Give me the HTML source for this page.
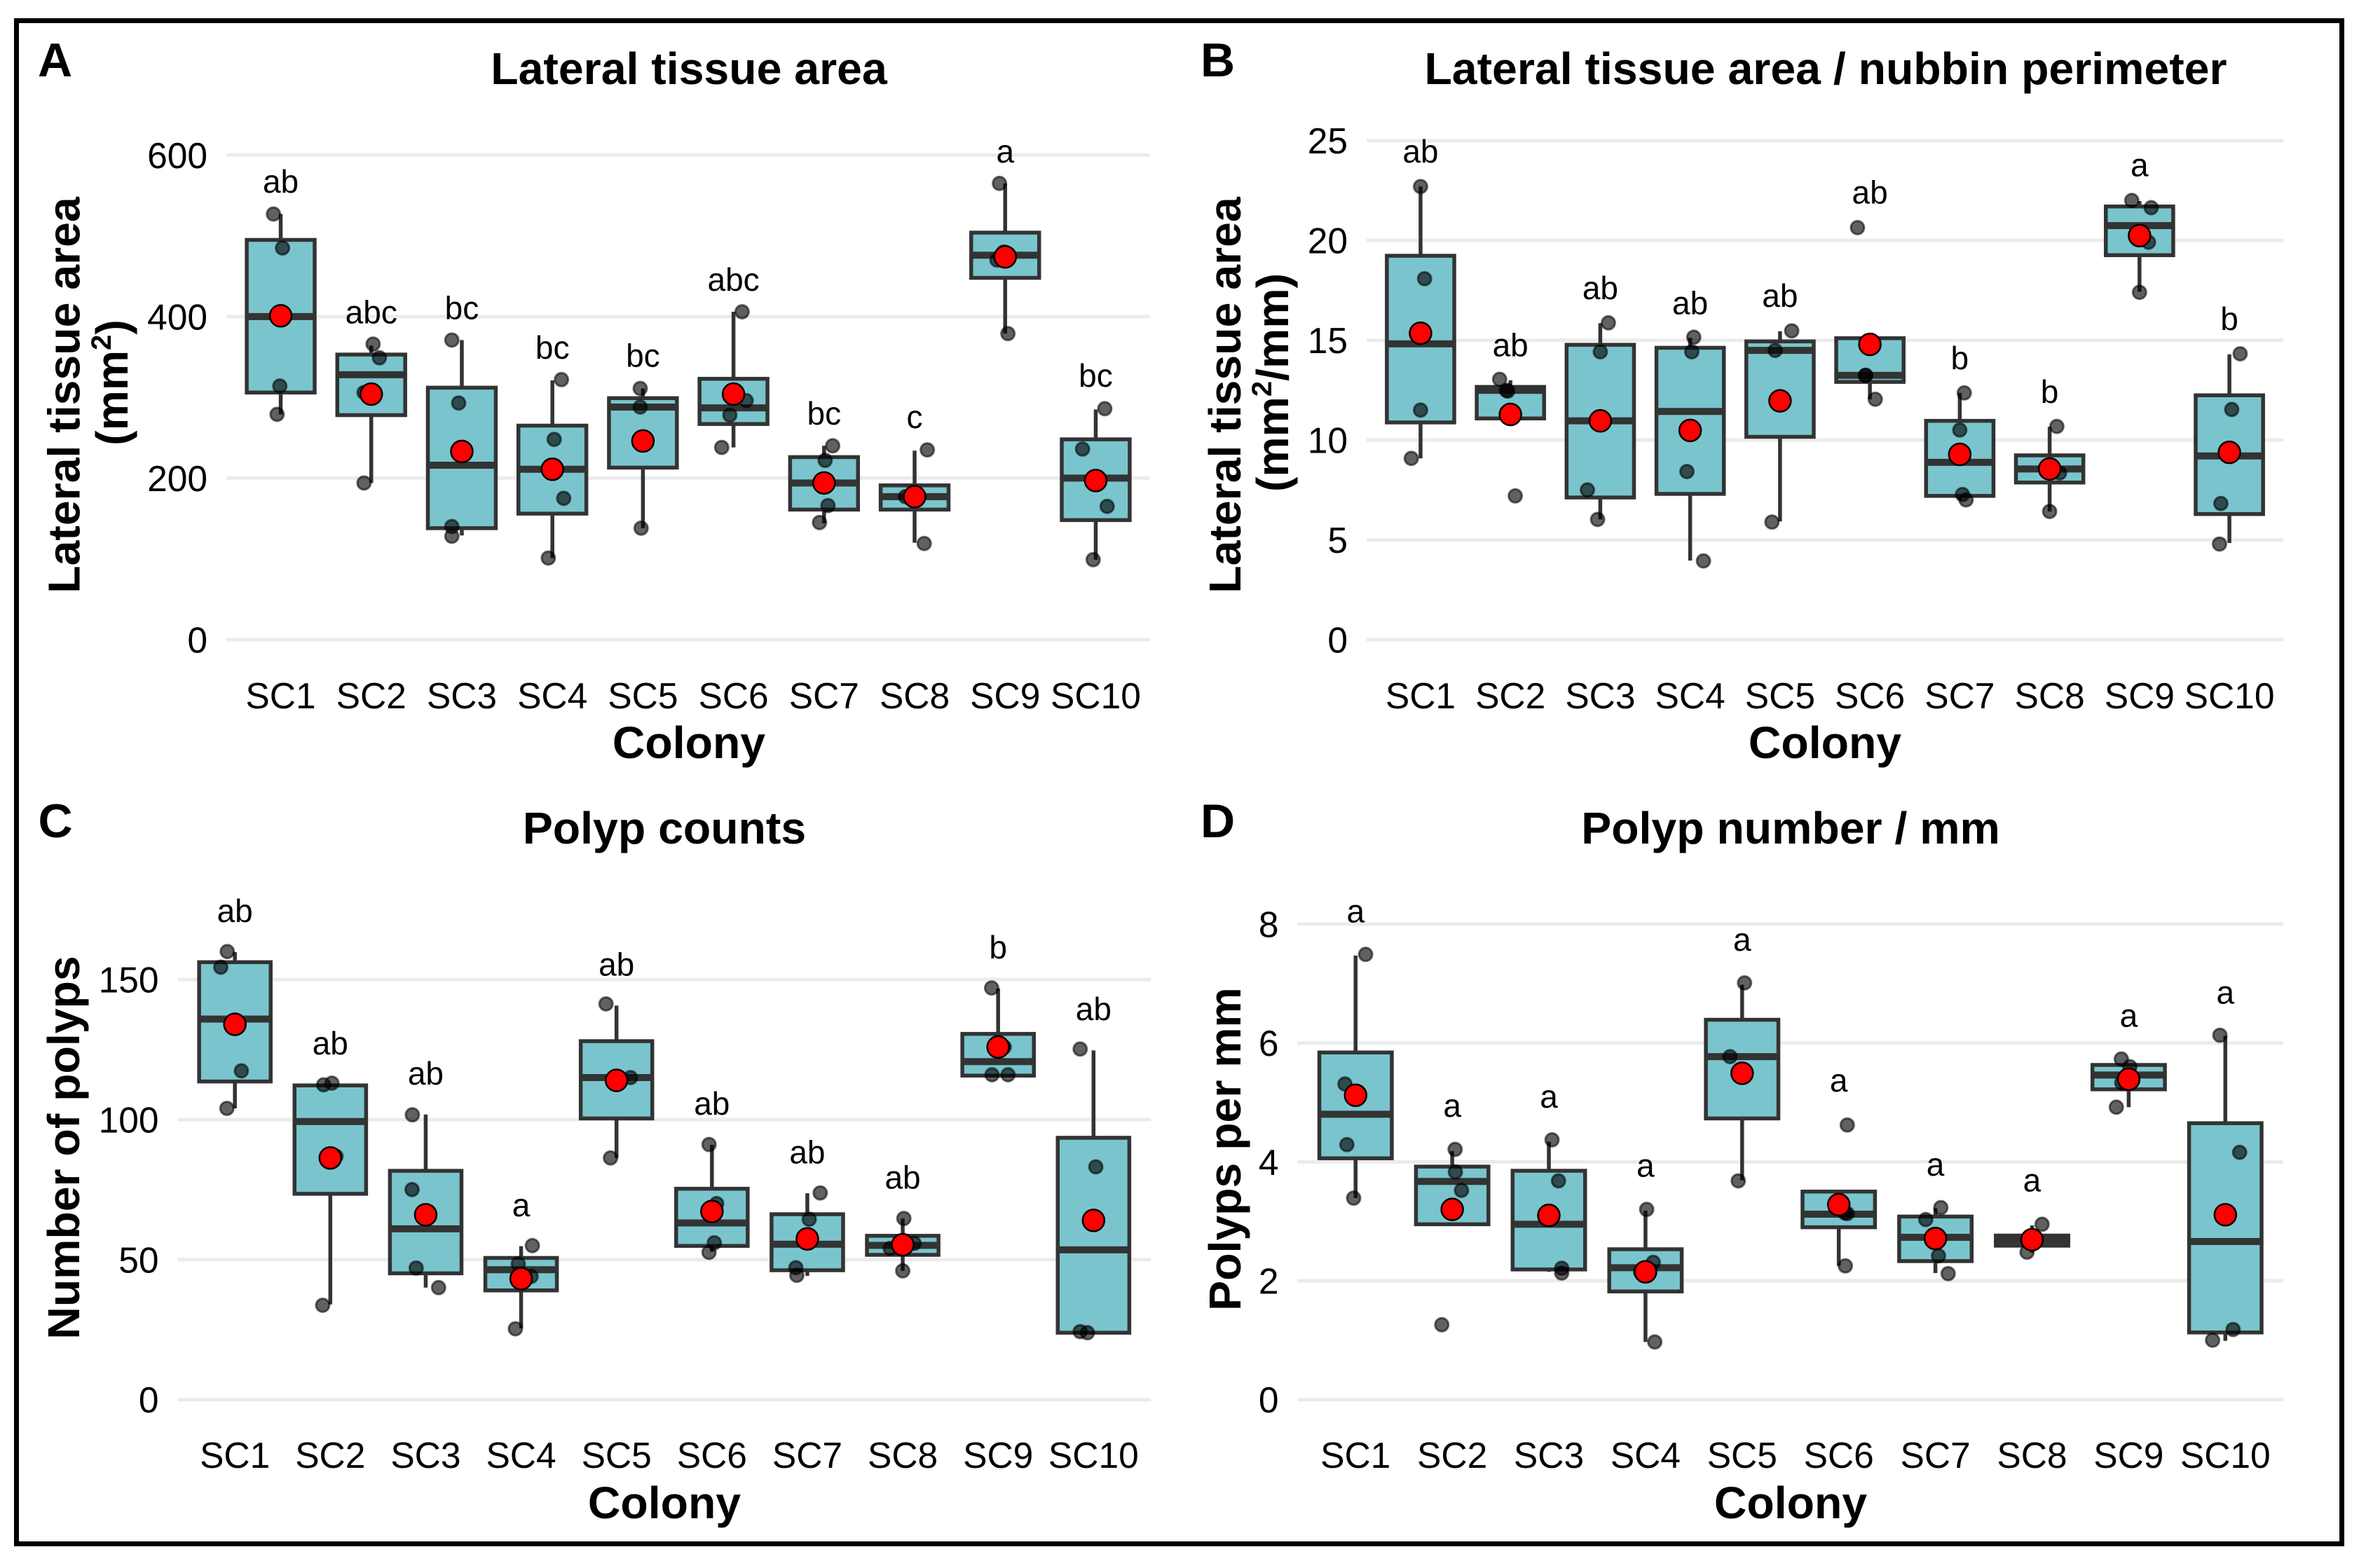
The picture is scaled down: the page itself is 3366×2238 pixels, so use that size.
<!DOCTYPE html>
<html lang="en">
<head>
<meta charset="utf-8">
<title>Lateral tissue area and polyp counts by colony</title>
<style>
  html, body { margin: 0; padding: 0; background: #fff; }
  svg { display: block; font-family: "Liberation Sans", Arial, sans-serif; }
  .panel-letter { font-size: 68px; font-weight: 700; fill: #000; }
  .title { font-size: 64.4px; font-weight: 700; fill: #000; text-anchor: middle; }
  .axis-title { font-size: 64.4px; font-weight: 700; fill: #000; text-anchor: middle; }
  .tick { font-size: 51.5px; fill: #000; }
  .sig { font-size: 46px; fill: #000; text-anchor: middle; }
</style>
</head>
<body>
<svg id="fig" xmlns="http://www.w3.org/2000/svg" width="3366" height="2238" viewBox="0 0 3366 2238">
  <rect x="0" y="0" width="3366" height="2238" fill="#fff"/>
  <rect x="23.5" y="29.5" width="3318" height="2174" fill="none" stroke="#000" stroke-width="7"/>

  <g id="panel-a">
    <text class="panel-letter" x="54" y="109">A</text>
    <text class="title" x="983" y="120">Lateral tissue area</text>
    <text class="axis-title" transform="translate(113.5,564) rotate(-90)">Lateral tissue area</text>
    <text class="axis-title" transform="translate(182,546) rotate(-90)">(mm<tspan font-size="40" dy="-24">2</tspan><tspan dy="24">)</tspan></text>
    <text class="axis-title" x="983" y="1082">Colony</text>
  </g>
  <g id="panel-b">
    <text class="panel-letter" x="1713" y="109">B</text>
    <text class="title" x="2605" y="120">Lateral tissue area / nubbin perimeter</text>
    <text class="axis-title" transform="translate(1770,564) rotate(-90)">Lateral tissue area</text>
    <text class="axis-title" transform="translate(1838,546) rotate(-90)">(mm<tspan font-size="40" dy="-24">2</tspan><tspan dy="24">/mm)</tspan></text>
    <text class="axis-title" x="2604" y="1082">Colony</text>
  </g>
  <g id="panel-c">
    <text class="panel-letter" x="54.5" y="1195">C</text>
    <text class="title" x="948" y="1204">Polyp counts</text>
    <text class="axis-title" transform="translate(113,1638) rotate(-90)">Number of polyps</text>
    <text class="axis-title" x="948" y="2167">Colony</text>
  </g>
  <g id="panel-d">
    <text class="panel-letter" x="1713" y="1195">D</text>
    <text class="title" x="2555" y="1204">Polyp number / mm</text>
    <text class="axis-title" transform="translate(1770,1640) rotate(-90)">Polyps per mm</text>
    <text class="axis-title" x="2555" y="2167">Colony</text>
  </g>
</svg>

<script>
// Shared category labels
const categories = ['SC1','SC2','SC3','SC4','SC5','SC6','SC7','SC8','SC9','SC10'];

// Panel A: lateral tissue area (mm2)
const aTicks = [0, 200, 400, 600];
const aQ1 = [306, 278, 138, 156, 213, 267, 161, 161, 448, 148];
const aMedian = [400, 328, 216, 211, 288, 287, 194, 177, 476, 200];
const aQ3 = [495, 353, 312, 265, 299, 323, 226, 191, 504, 248];
const aWhiskerLow = [279, 194, 129, 101, 138, 238, 144, 120, 379, 99];
const aWhiskerHigh = [527, 364, 371, 321, 311, 406, 240, 234, 565, 285];
const aMean = [401, 304, 233, 211, 246, 304, 194, 177, 474, 197];
const aPoints = [[527,485,314,279],[366,349,306,194],[371,293,140,128],[322,248,175,101],[311,288,138],[406,296,278,238],[240,222,166,145],[235,177,119],[565,480,470,379],[286,236,165,99]];
const aJitter = [[-.08,.02,-.01,-.04],[.02,.09,-.08,-.08],[-.11,-.035,-.11,-.11],[.10,.02,.125,-.045],[-.03,-.03,-.02],[.095,.14,-.04,-.13],[.095,.012,.043,-.05],[.14,-.10,.106],[-.063,-.016,-.09,.03],[.10,-.146,.126,-.028]];
const aLetters = ['ab','abc','bc','bc','bc','abc','bc','c','a','bc'];
const aLetterY = [553.5, 391.7, 396.7, 347.7, 337.8, 432, 266.5, 262, 590.7, 313];

// Panel B: lateral tissue area / nubbin perimeter (mm2/mm)
const bTicks = [0, 5, 10, 15, 20, 25];
const bQ1 = [10.88, 11.08, 7.12, 7.3, 10.16, 12.91, 7.2, 7.87, 19.26, 6.29];
const bMedian = [14.82, 12.49, 10.96, 11.43, 14.49, 13.24, 8.88, 8.55, 20.74, 9.2];
const bQ3 = [19.23, 12.66, 14.77, 14.62, 14.94, 15.1, 10.96, 9.23, 21.7, 12.24];
const bWhiskerLow = [9.08, 11.08, 6.02, 3.96, 5.92, 12.04, 7.0, 6.42, 17.43, 4.84];
const bWhiskerHigh = [22.7, 12.99, 15.85, 15.12, 15.45, 15.1, 12.36, 10.66, 21.97, 14.29];
const bMean = [15.35, 11.28, 10.96, 10.48, 11.96, 14.79, 9.28, 8.55, 20.24, 9.38];
const bPoints = [[22.7,18.08,11.5,9.08],[13.04,12.49,12.45,7.2],[15.87,14.42,7.5,6.02],[15.15,14.42,8.42,3.94],[15.47,14.49,5.89],[20.64,13.24,13.24,12.04],[12.36,10.5,7.27,7.0],[10.68,8.35,6.42],[22,21.64,19.91,17.4],[14.32,11.53,6.82,4.79]];
const bJitter = [[0,.045,0,-.103],[-.12,-.045,-.03,.054],[.09,0,-.143,-.03],[.04,.018,-.036,.148],[.13,-.054,-.09],[-.138,-.047,-.05,.06],[.05,0,.03,.07],[.08,.11,0],[-.086,.13,.1,0],[.12,.026,-.095,-.11]];
const bLetters = ['ab','ab','ab','ab','ab','ab','b','b','a','b'];
const bLetterY = [23.9, 14.19, 17.05, 16.3, 16.67, 21.84, 13.54, 11.86, 23.22, 15.52];

// Panel C: polyp counts
const cTicks = [0, 50, 100, 150];
const cQ1 = [113.6, 73.5, 45.1, 39, 100.4, 54.9, 46.2, 51.7, 115.7, 23.9];
const cMedian = [135.9, 99.3, 61, 46.4, 115, 63.1, 55.5, 55.1, 120.7, 53.5];
const cQ3 = [156.2, 112.2, 81.7, 50.6, 128, 75.3, 66.2, 58.5, 130.6, 93.5];
const cWhiskerLow = [104, 34, 40, 25.5, 86.3, 52.8, 44.2, 46, 115.7, 23.9];
const cWhiskerHigh = [159.8, 112.2, 101.8, 54.8, 140.7, 91, 73.7, 64.7, 146.8, 124.7];
const cMean = [134, 86.3, 66, 43.2, 114, 67.2, 57.4, 55.3, 125.9, 64];
const cPoints = [[160,154.4,117.4,104],[113,112.4,86.9,33.7],[101.7,75,47,40],[55,48.5,44,25.3],[141.3,115,86.3],[91.1,70,56,52.6],[73.8,64.4,47.1,44.4],[64.7,55.8,54,46],[147,125.9,116,116],[125.2,83.1,24.3,23.9]];
const cJitter = [[-.08,-.148,.068,-.084],[.017,-.07,.06,-.08],[-.14,-.143,-.1,.135],[.118,-.03,.105,-.06],[-.11,.147,-.063],[-.03,.05,.025,-.03],[.135,.02,-.12,-.11],[.012,.12,-.13,0],[-.068,.064,-.064,.104],[-.14,.024,-.14,-.064]];
const cLetters = ['ab','ab','ab','a','ab','ab','ab','ab','b','ab'];
const cLetterY = [170.5, 123.2, 112.5, 65.5, 151.4, 101.8, 84.4, 75.4, 157.5, 135.5];

// Panel D: polyps per mm
const dTicks = [0, 2, 4, 6, 8];
const dQ1 = [4.06, 2.95, 2.19, 1.82, 4.73, 2.9, 2.33, 2.59, 5.22, 1.13];
const dMedian = [4.8, 3.67, 2.95, 2.22, 5.77, 3.12, 2.73, 2.68, 5.46, 2.66];
const dQ3 = [5.84, 3.92, 3.85, 2.53, 6.39, 3.5, 3.08, 2.76, 5.63, 4.65];
const dWhiskerLow = [3.39, 2.95, 2.15, 0.97, 3.69, 2.25, 2.13, 2.47, 4.92, 0.99];
const dWhiskerHigh = [7.47, 4.18, 4.34, 3.18, 6.98, 3.5, 3.22, 2.93, 5.63, 6.12];
const dMean = [5.12, 3.2, 3.1, 2.15, 5.49, 3.28, 2.71, 2.69, 5.39, 3.11];
const dPoints = [[7.49,5.31,4.29,3.39],[4.21,3.83,3.52,1.26],[4.37,3.68,2.21,2.13],[3.2,2.31,2.15,0.97],[7.01,5.77,3.68],[4.62,3.13,3.14,2.25],[3.23,3.03,2.42,2.12],[2.95,2.48],[5.73,5.6,5.33,4.92],[6.13,4.16,1.18,1.0]];
const dJitter = [[.104,-.11,-.09,-.02],[.03,.033,.096,-.108],[.033,.1,.133,.133],[.012,.08,-.05,.096],[.025,-.125,-.04],[.088,.088,.064,.068],[.056,-.1,.032,.132],[.104,-.052],[-.076,.012,-.072,-.128],[-.056,.148,.08,-.132]];
const dLetters = ['a','a','a','a','a','a','a','a','a','a'];
const dLetterY = [8.03, 4.76, 4.91, 3.75, 7.55, 5.18, 3.77, 3.5, 6.27, 6.66];

const SVG_NS = 'http://www.w3.org/2000/svg';

function shape(tag, attrs, parent) {
  const el = document.createElementNS(SVG_NS, tag);
  for (const k in attrs) el.setAttribute(k, attrs[k]);
  parent.appendChild(el);
  return el;
}

function drawPanel(id, frame, ticks, q1, median, q3, wLow, wHigh, mean, points, jitter, letters, letterY) {
  const root = document.getElementById(id);
  const step = (frame.right - frame.left) / (categories.length - 1 + 1.2);
  const xScale = i => frame.left + step * (0.6 + i);
  const yScale = v => frame.zeroY + (frame.topY - frame.zeroY) * (v / frame.topValue);
  const boxW = step * 0.75;

  ticks.forEach(t => {
    const line = shape('line', { x1: frame.left, x2: frame.right, y1: yScale(t), y2: yScale(t), stroke: '#ebebeb', 'stroke-width': 5 }, root);
    
    
    const label = shape('text', { class: 'tick', x: frame.left - 27, y: yScale(t) + 18.5, 'text-anchor': 'end' }, root);
    label.textContent = t;
    
    
  });

  categories.forEach((cat, i) => {
    const cx = xScale(i);
    const label = shape('text', { class: 'tick', x: cx, y: frame.labelY, 'text-anchor': 'middle' }, root);
    label.textContent = cat;
    
    

    const group = shape('g', {}, root);
    
    

    const whisker = shape('line', { x1: cx, x2: cx, y1: yScale(wLow[i]), y2: yScale(wHigh[i]), stroke: '#333', 'stroke-width': 5.5 }, group);
    
    

    const box = shape('rect', { x: cx - boxW / 2, y: yScale(q3[i]), width: boxW, height: yScale(q1[i]) - yScale(q3[i]), fill: '#7ac5cd', stroke: '#333', 'stroke-width': 5.5 }, group);
    
    

    const med = shape('line', { x1: cx - boxW / 2, x2: cx + boxW / 2, y1: yScale(median[i]), y2: yScale(median[i]), stroke: '#333', 'stroke-width': 10 }, group);
    
    

    points[i].forEach((v, j) => {
      const pt = shape('circle', { cx: cx + jitter[i][j] * step, cy: yScale(v), r: 9.5, fill: '#000', 'fill-opacity': 0.62, stroke: '#000', 'stroke-opacity': 0.55, 'stroke-width': 3 }, group);
      
      
    });

    const m = shape('circle', { cx: cx, cy: yScale(mean[i]), r: 15.5, fill: '#ff0000', stroke: '#000', 'stroke-width': 2.5 }, group);
    
    

    const sig = shape('text', { class: 'sig', x: cx, y: yScale(letterY[i]) }, root);
    sig.textContent = letters[i];
    
    
  });
}

drawPanel('panel-a', { left: 323, right: 1641, zeroY: 912.9, topY: 221.4, topValue: 600, labelY: 1011 },
  aTicks, aQ1, aMedian, aQ3, aWhiskerLow, aWhiskerHigh, aMean, aPoints, aJitter, aLetters, aLetterY);
drawPanel('panel-b', { left: 1950, right: 3258, zeroY: 912.9, topY: 200.7, topValue: 25, labelY: 1011 },
  bTicks, bQ1, bMedian, bQ3, bWhiskerLow, bWhiskerHigh, bMean, bPoints, bJitter, bLetters, bLetterY);
drawPanel('panel-c', { left: 253.5, right: 1642, zeroY: 1997.7, topY: 1398.1, topValue: 150, labelY: 2095 },
  cTicks, cQ1, cMedian, cQ3, cWhiskerLow, cWhiskerHigh, cMean, cPoints, cJitter, cLetters, cLetterY);
drawPanel('panel-d', { left: 1851.5, right: 3258, zeroY: 1997.7, topY: 1318.9, topValue: 8, labelY: 2095 },
  dTicks, dQ1, dMedian, dQ3, dWhiskerLow, dWhiskerHigh, dMean, dPoints, dJitter, dLetters, dLetterY);
</script>
</body>
</html>
